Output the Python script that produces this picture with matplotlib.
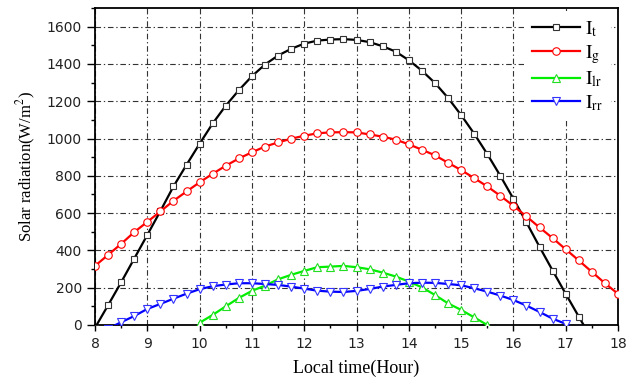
import numpy as np
import matplotlib
matplotlib.use("Agg")
import matplotlib.pyplot as plt
from matplotlib.ticker import MultipleLocator

nan = np.nan
hours = [8.0, 8.25, 8.5, 8.75, 9.0, 9.25, 9.5, 9.75, 10.0, 10.25, 10.5, 10.75,
         11.0, 11.25, 11.5, 11.75, 12.0, 12.25, 12.5, 12.75, 13.0, 13.25, 13.5,
         13.75, 14.0, 14.25, 14.5, 14.75, 15.0, 15.25, 15.5, 15.75, 16.0, 16.25,
         16.5, 16.75, 17.0, 17.25, 17.5, 17.75, 18.0]

I_t = [-15, 106, 229, 356, 483, 611, 743, 859, 972, 1081, 1176, 1259,
       1334, 1397, 1445, 1481, 1509, 1525, 1531, 1533, 1529, 1517, 1495,
       1466, 1420, 1364, 1298, 1218, 1126, 1026, 917, 800, 677, 550,
       419, 292, 167, 45, -77, nan, nan]

I_g = [317, 376, 435, 498, 553, 609, 666, 716, 765, 811, 854, 893,
       926, 957, 979, 999, 1015, 1028, 1033, 1034, 1033, 1022, 1010,
       994, 969, 940, 910, 870, 831, 788, 743, 693, 639, 582,
       523, 466, 406, 346, 285, 224, 167]

I_lr = [nan, nan, nan, nan, nan, nan, nan, nan, 12, 54, 100, 145,
        183, 211, 245, 269, 290, 310, 313, 317, 310, 299, 281,
        260, 233, 202, 161, 116, 81, 41, 0, nan, nan, nan,
        nan, nan, nan, nan, nan, nan, nan]

I_rr = [nan, -20, 15, 48, 86, 113, 141, 168, 192, 208, 217, 224,
        224, 220, 215, 206, 195, 184, 179, 177, 183, 193, 206,
        215, 224, 227, 226, 220, 213, 197, 179, 158, 134, 104,
        70, 34, 6, -25, nan, nan, nan]

labels = [r'$\mathrm{I_t}$', r'$\mathrm{I_g}$', r'$\mathrm{I_{lr}}$', r'$\mathrm{I_{rr}}$']
x_ticks = [8, 9, 10, 11, 12, 13, 14, 15, 16, 17, 18]
y_ticks = [0, 200, 400, 600, 800, 1000, 1200, 1400, 1600]

plt.rcParams['mathtext.fontset'] = 'stix'

fig = plt.figure(figsize=(6.37, 3.80), dpi=100)
ax = fig.add_axes([95/637, 1-325/380, (618-95)/637, (325-8)/380])

styles = [
    dict(color='black', marker='s', mec='#333333', ms=4.8),
    dict(color='#ff0000', marker='o', mec='#ff0000', ms=5.4),
    dict(color='#00ee00', marker='^', mec='#22dd22', ms=6.0),
    dict(color='#0000ff', marker='v', mec='#3333ff', ms=6.0),
]
for series, lab, st in zip([I_t, I_g, I_lr, I_rr], labels, styles):
    ax.plot(hours, series, color=st['color'], lw=1.6, marker=st['marker'],
            ms=st['ms'], mfc='white', mec=st['mec'], mew=0.8, label=lab,
            zorder=3)

ax.set_xlim(8, 18)
ax.set_ylim(0, 1700)
ax.set_xticks(x_ticks)
ax.set_yticks(y_ticks)
ax.xaxis.set_minor_locator(MultipleLocator(0.5))
ax.yaxis.set_minor_locator(MultipleLocator(100))

ax.grid(True, which='major', color='#333333', lw=0.8,
        linestyle=(0, (5, 2.5, 1.2, 2.5)), zorder=1)
ax.set_axisbelow(True)

for sp in ax.spines.values():
    sp.set_linewidth(1.3)

ax.tick_params(axis='x', which='major', direction='out', length=4, width=1.0,
               pad=5, labelsize=10)
ax.tick_params(axis='x', which='minor', direction='out', length=2.5, width=1.0)
ax.tick_params(axis='y', which='major', direction='out', length=5.5, width=1.0,
               pad=4, labelsize=10)
ax.tick_params(axis='y', which='minor', direction='out', length=3, width=1.0)
for lbl in ax.get_xticklabels() + ax.get_yticklabels():
    lbl.set_family('DejaVu Sans')
    lbl.set_color('#222222')

ax.set_xlabel('Local time(Hour)', family='Liberation Serif', fontsize=13,
              labelpad=6)
ax.set_ylabel(r'Solar radiation(W/m$^2$)', family='Liberation Serif',
              fontsize=12, labelpad=6)

leg = ax.legend(loc='upper right', bbox_to_anchor=(1.005, 1.02),
                fontsize=14, handlelength=2.5, handletextpad=0.25,
                labelspacing=0.2, frameon=True, fancybox=False,
                framealpha=1, borderpad=0.4)
leg.get_frame().set_edgecolor('none')
leg.get_frame().set_facecolor('white')

fig.savefig('out.png', dpi=100)
